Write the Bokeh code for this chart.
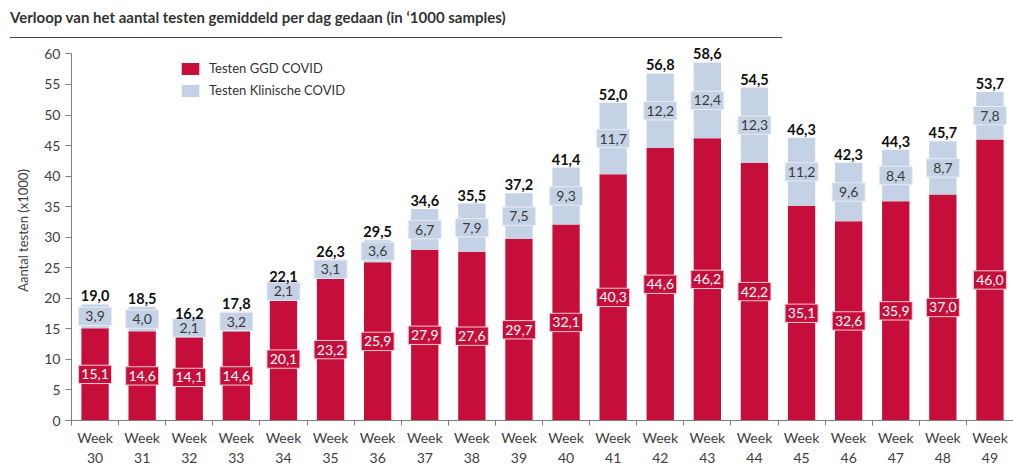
from bokeh.plotting import figure
from bokeh.models import (ColumnDataSource, Range1d, FixedTicker, Legend, LegendItem, Div)
from bokeh.layouts import column
from bokeh.core.properties import value
from bokeh.embed import file_html
from bokeh.resources import INLINE

weeks = ["30", "31", "32", "33", "34", "35", "36", "37", "38", "39",
         "40", "41", "42", "43", "44", "45", "46", "47", "48", "49"]
ggd = [15.1, 14.6, 14.1, 14.6, 20.1, 23.2, 25.9, 27.9, 27.6, 29.7,
       32.1, 40.3, 44.6, 46.2, 42.2, 35.1, 32.6, 35.9, 37.0, 46.0]
klinisch = [3.9, 4.0, 2.1, 3.2, 2.1, 3.1, 3.6, 6.7, 7.9, 7.5,
            9.3, 11.7, 12.2, 12.4, 12.3, 11.2, 9.6, 8.4, 8.7, 7.8]
totals = [19.0, 18.5, 16.2, 17.8, 22.1, 26.3, 29.5, 34.6, 35.5, 37.2,
          41.4, 52.0, 56.8, 58.6, 54.5, 46.3, 42.3, 44.3, 45.7, 53.7]

RED = "#C50F3A"
BLUE = "#C5D1E4"
FONT = "Lato"

def fmt(v):
    return f"{v:.1f}".replace(".", ",")

n = len(weeks)
xs = [i + 0.5 for i in range(n)]
tops = [g + k for g, k in zip(ggd, klinisch)]
src = ColumnDataSource(dict(
    x=xs, ggd=ggd, top=tops,
    ggd_mid=[g / 2 for g in ggd],
    kl_mid=[g + k / 2 for g, k in zip(ggd, klinisch)],
    ggd_lbl=[fmt(v) for v in ggd],
    kl_lbl=[fmt(v) for v in klinisch],
    tot_lbl=[fmt(v) for v in totals],
))

p = figure(width=1013, height=430, output_backend="svg", toolbar_location=None,
           x_range=Range1d(0, n), y_range=Range1d(0, 62.2),
           min_border_left=71, min_border_right=0, min_border_top=2,
           min_border_bottom=44, outline_line_color=None)
p.grid.visible = False
p.background_fill_color = "white"

r_ggd = p.vbar(x="x", bottom=0, top="ggd", width=0.58, source=src,
               fill_color=RED, line_color=None)
r_kl = p.vbar(x="x", bottom="ggd", top="top", width=0.58, source=src,
              fill_color=BLUE, line_color=None)

# label boxes
p.rect(x="x", y="ggd_mid", width=0.7, height=3.0, source=src,
       fill_color=RED, line_color="#F3C9D3", line_width=1)
p.text(x="x", y="ggd_mid", text="ggd_lbl", source=src, text_align="center",
       text_baseline="middle", text_color="white", text_font=value(FONT),
       text_font_size="14px")
p.rect(x="x", y="kl_mid", width=0.7, height=3.0, source=src,
       fill_color=BLUE, line_color="#E6ECF4", line_width=1)
p.text(x="x", y="kl_mid", text="kl_lbl", source=src, text_align="center",
       text_baseline="middle", text_color="#3A3A3A", text_font=value(FONT),
       text_font_size="14px")
p.text(x="x", y="top", text="tot_lbl", source=src, text_align="center",
       text_baseline="bottom", y_offset=-3, text_color="#111111",
       text_font=value(FONT), text_font_size="14.5px", text_font_style="bold")

# axes
xa = p.xaxis[0]
xa.ticker = FixedTicker(ticks=xs, minor_ticks=list(range(n + 1)))
xa.major_label_overrides = {x: "Week\n" + w for x, w in zip(xs, weeks)}
xa.major_tick_line_color = None
xa.minor_tick_line_color = "#7F7F7F"
xa.minor_tick_out = 5
xa.minor_tick_in = 0
xa.axis_line_color = "#7F7F7F"
xa.major_label_text_font = FONT
xa.major_label_text_font_size = "14px"
xa.major_label_text_color = "#404040"
xa.major_label_standoff = 2

ya = p.yaxis[0]
ya.ticker = FixedTicker(ticks=list(range(0, 61, 5)))
ya.bounds = (0, 60)
ya.minor_tick_line_color = None
ya.major_tick_out = 6
ya.major_tick_in = 0
ya.major_tick_line_color = "#7F7F7F"
ya.axis_line_color = "#7F7F7F"
ya.major_label_text_font = FONT
ya.major_label_text_font_size = "14px"
ya.major_label_text_color = "#404040"
ya.axis_label = "Aantal testen (x1000)"
ya.axis_label_text_font = FONT
ya.axis_label_text_font_size = "13px"
ya.axis_label_text_font_style = "normal"
ya.axis_label_text_color = "#404040"
ya.axis_label_standoff = 10

legend = Legend(items=[LegendItem(label="Testen GGD COVID", renderers=[r_ggd]),
                       LegendItem(label="Testen Klinische COVID", renderers=[r_kl])],
                location=(108, 322), border_line_color=None,
                background_fill_alpha=0, label_text_font=FONT,
                label_text_font_size="13px", label_text_color="#333333",
                glyph_width=22, glyph_height=15, spacing=6, padding=4,
                label_standoff=8)
p.add_layout(legend)

title = Div(text="Verloop van het aantal testen gemiddeld per dag gedaan (in \u20181000 samples)",
            width=772, height=38, margin=(0, 0, 0, 10),
            styles={"font-family": FONT, "font-size": "15px", "font-weight": "bold",
                    "color": "#333333", "border-bottom": "1.5px solid #444444",
                    "box-sizing": "border-box", "padding-top": "7px"})

layout = column(title, p, spacing=0)
open("out.html", "w").write(file_html(layout, INLINE))
